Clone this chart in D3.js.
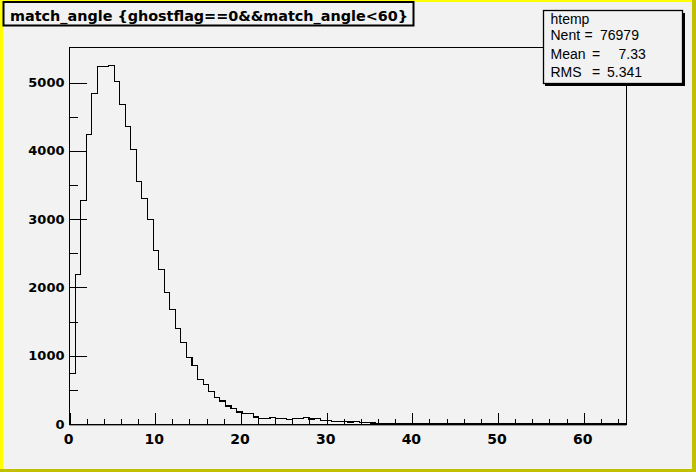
<!DOCTYPE html>
<html><head><meta charset="utf-8">
<script src="https://cdn.jsdelivr.net/npm/d3@7/dist/d3.min.js"></script>
<style>body{margin:0;background:#f2f2f2;overflow:hidden}</style>
</head><body><svg id="c" width="696" height="472"></svg>
<script>
// ---- data ----
const titleText = "match_angle {ghostflag==0&&match_angle<60}";
const statsName = "htemp";
const statsLabels = ["Nent", "Mean", "RMS"];
const statsValues = ["76979", "7.33", "5.341"];
const xRange = [0, 65];
const yMaxValue = 5520;
const nBins = 100;
const binCounts = [
  743, 2183, 3277, 4244, 4845, 5240, 5240, 5255, 5021, 4684,
  4351, 4024, 3556, 3306, 2989, 2545, 2266, 1929, 1680, 1402,
  1197, 977, 862, 645, 574, 473, 391, 337, 264, 231,
  176, 158, 154, 103, 84, 84, 95, 84, 80, 71,
  84, 76, 98, 73, 84, 56, 50, 40, 40, 38,
  29, 35, 25, 24, 15, 10, 10, 10, 10, 0,
  0, 0, 0, 6, 0, 0, 0, 0, 0, 0,
  0, 0, 0, 0, 0, 0, 0, 0, 0, 0,
  0, 0, 0, 0, 0, 0, 0, 0, 0, 0,
  0, 0, 0, 0, 0, 0, 0, 0, 0, 0
];
const xTickLabels = [0, 10, 20, 30, 40, 50, 60];
const xMinorTicks = d3.range(0, 65, 2);
const yTickLabels = [0, 1000, 2000, 3000, 4000, 5000];
const yMinorTicks = d3.range(0, 5001, 500);

// ---- drawing ----
const W = 696, H = 472;
const svg = d3.select("#c");
const frame = {l: 69.5, r: 626.5, t: 47, b: 424};

svg.append("rect").attr("width", W).attr("height", H).attr("fill", "#f2f2f2");
// canvas border (raised, yellow)
svg.append("rect").attr("x", 0).attr("y", 0).attr("width", W).attr("height", 2).attr("fill", "#ffff00");
svg.append("rect").attr("x", 0).attr("y", 0).attr("width", 3).attr("height", H).attr("fill", "#ffff00");
svg.append("rect").attr("x", 0).attr("y", H - 3).attr("width", W).attr("height", 3).attr("fill", "#c0c000");
svg.append("rect").attr("x", W - 4).attr("y", 0).attr("width", 4).attr("height", H).attr("fill", "#c0c000");

const x = d3.scaleLinear().domain(xRange).range([frame.l, frame.r]);
const y = d3.scaleLinear().domain([0, yMaxValue]).range([frame.b, frame.t]);

// frame
svg.append("line").attr("x1", frame.l).attr("x2", frame.r).attr("y1", frame.b + 1.5).attr("y2", frame.b + 1.5)
  .attr("stroke", "#9a9a9a").attr("stroke-width", 1);
svg.append("rect").attr("x", frame.l).attr("y", frame.t + 0.5).attr("width", frame.r - frame.l).attr("height", frame.b - frame.t)
  .attr("fill", "none").attr("stroke", "#000").attr("stroke-width", 1).attr("shape-rendering", "crispEdges");

// histogram outline
const binW = (xRange[1] - xRange[0]) / nBins;
const pts = [[x(xRange[0]), y(0)]];
binCounts.forEach((c, i) => {
  pts.push([x(xRange[0] + i * binW), y(c)]);
  pts.push([x(xRange[0] + (i + 1) * binW), y(c)]);
});
pts.push([x(xRange[1]), y(0)]);
svg.append("path").attr("d", d3.line()(pts)).attr("fill", "none").attr("stroke", "#000")
  .attr("stroke-width", 1.1).attr("shape-rendering", "crispEdges");

// axes
function styleAxis(g, fs) {
  g.select(".domain").remove();
  g.selectAll(".tick line").attr("stroke", "#000").attr("shape-rendering", "crispEdges");
  g.selectAll(".tick text").attr("fill", "#000").attr("font-family", "DejaVu Sans")
    .attr("font-weight", "bold").attr("font-size", fs);
}
const yMinor = svg.append("g").attr("transform", `translate(${frame.l},0)`)
  .call(d3.axisLeft(y).tickValues(yMinorTicks).tickSize(-8.5).tickFormat(""));
styleAxis(yMinor, 13);
const yMajor = svg.append("g").attr("transform", `translate(${frame.l},0)`)
  .call(d3.axisLeft(y).tickValues(yTickLabels).tickSize(-17).tickPadding(5).tickFormat(d3.format("d")));
styleAxis(yMajor, 13);

const xMinor = svg.append("g").attr("transform", `translate(0,${frame.b})`)
  .call(d3.axisBottom(x).tickValues(xMinorTicks).tickSize(-5.5).tickFormat(""));
styleAxis(xMinor, 14);
const xMajor = svg.append("g").attr("transform", `translate(0,${frame.b})`)
  .call(d3.axisBottom(x).tickValues(xTickLabels).tickSize(-11).tickPadding(10).tickFormat(d3.format("d")));
styleAxis(xMajor, 14);
xMajor.selectAll(".tick text").attr("dx", "-0.1em");

// title box
svg.append("rect").attr("x", 3.5).attr("y", 2).attr("width", 410).attr("height", 23.5)
  .attr("fill", "#f2f2f2").attr("stroke", "#000").attr("stroke-width", 2);
svg.append("text").attr("x", 10).attr("y", 21).attr("font-family", "DejaVu Sans").attr("font-weight", "bold")
  .attr("font-size", 14).attr("textLength", 398).attr("lengthAdjust", "spacingAndGlyphs").text(titleText);

// stats box
svg.append("rect").attr("x", 545).attr("y", 13).attr("width", 140).attr("height", 73).attr("fill", "#000");
svg.append("rect").attr("x", 543.5).attr("y", 10.5).attr("width", 139).attr("height", 73)
  .attr("fill", "#f2f2f2").attr("stroke", "#000").attr("stroke-width", 1.3);
const sf = {"font-family": "Liberation Sans", "font-size": 14, "fill": "#000"};
function stext(tx, ty, s, anchor) {
  const t = svg.append("text").attr("x", tx).attr("y", ty).text(s).attr("text-anchor", anchor || "start");
  Object.entries(sf).forEach(([k, v]) => t.attr(k, v));
  return t;
}
stext(550.5, 23.5, statsName);
const rowY = [40, 58.8, 77];
const eqX = [584.5, 592, 592];
const valX = [600, 618.5, 607];
statsLabels.forEach((lab, i) => {
  stext(550.5, rowY[i], lab);
  stext(eqX[i], rowY[i], "=");
  stext(valX[i], rowY[i], statsValues[i]);
});
</script></body></html>
